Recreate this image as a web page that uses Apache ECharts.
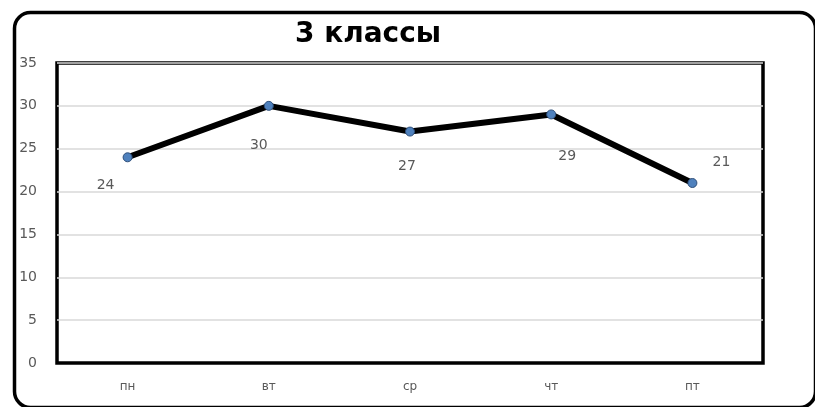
<!DOCTYPE html>
<html><head><meta charset="utf-8">
<script src="https://cdn.jsdelivr.net/npm/echarts@6/dist/echarts.min.js"></script>
<style>html,body{margin:0;padding:0;background:#fff}#c{width:815px;height:407px}</style>
</head><body><div id="c"></div>
<script>
const titleText = "3 классы";
const categories = ["пн", "вт", "ср", "чт", "пт"];
const values = [24, 30, 27, 29, 21];
const yTicks = [0, 5, 10, 15, 20, 25, 30, 35];
// label offsets (style only)
const labelOffsets = [[-22, 28], [-10, 40], [-3, 35], [16, 42], [29, -21]];

const chart = echarts.init(document.getElementById('c'), null, {renderer: 'canvas'});
chart.setOption({
  backgroundColor: '#fff',
  animation: false,
  title: {
    text: titleText, left: 363, top: 16, textAlign: 'center',
    textStyle: {fontFamily: 'DejaVu Sans', fontWeight: 'bold', fontSize: 28, color: '#000'}
  },
  graphic: [{
    type: 'rect', left: 12, top: 10, z: 100,
    shape: {width: 801, height: 395, r: 16},
    style: {fill: 'none', stroke: '#000', lineWidth: 3.5}
  }],
  grid: {left: 57, top: 63, right: 52, bottom: 44, show: true, borderColor: '#000', borderWidth: 3.5, backgroundColor: 'transparent'},
  xAxis: {
    type: 'category', data: categories, boundaryGap: true,
    axisLine: {show: true, lineStyle: {color: '#000', width: 2}},
    axisTick: {show: false},
    axisLabel: {margin: 18, color: '#595959', fontSize: 12, fontFamily: 'DejaVu Sans'}
  },
  yAxis: {
    type: 'value', min: yTicks[0], max: yTicks[yTicks.length - 1], interval: yTicks[1] - yTicks[0],
    axisLine: {show: false}, axisTick: {show: false},
    splitLine: {lineStyle: {color: '#d9d9d9', width: 1.5}},
    axisLabel: {margin: 20, color: '#595959', fontSize: 14, fontFamily: 'DejaVu Sans'}
  },
  series: [{
    type: 'line',
    data: values.map((v, i) => ({
      value: v,
      label: {show: true, position: 'inside', offset: labelOffsets[i]}
    })),
    lineStyle: {color: '#000', width: 6},
    symbol: 'circle', symbolSize: 9,
    itemStyle: {color: '#4F81BD', borderColor: '#2f4f7a', borderWidth: 1},
    label: {color: '#595959', fontSize: 14, fontFamily: 'DejaVu Sans'},
    z: 3
  }]
});
</script></body></html>
